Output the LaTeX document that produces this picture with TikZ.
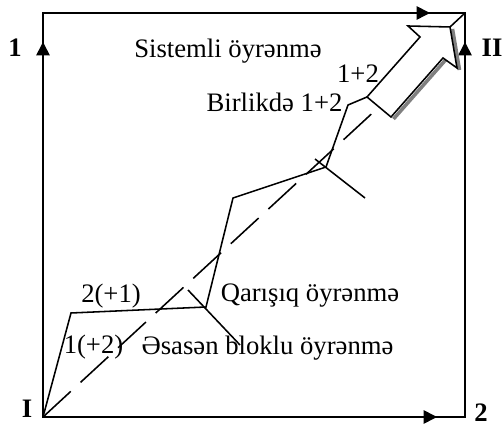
\documentclass[tikz,border=0pt]{standalone}
\usepackage{fontspec}
\setmainfont{Liberation Serif}
\usetikzlibrary{arrows.meta}
\definecolor{shadowgray}{RGB}{128,128,128}

\begin{document}
\begin{tikzpicture}[x=0.45pt,y=0.45pt,line width=0.7pt,line join=miter,
  axis/.style={-{Triangle[length=6pt,width=6pt]}},
  lbl/.style={font=\fontsize{12}{14}\selectfont,inner sep=0pt,anchor=base},
  corner/.style={font=\fontsize{12}{14}\selectfont\bfseries,inner sep=0pt,anchor=base},
  dashline/.style={dash pattern=on 17pt off 6pt}]
\useasboundingbox (0,0) rectangle (502,425);
\coordinate (I) at (43,8);
\coordinate (tl) at (43,412);
\coordinate (tr) at (465,412);
\coordinate (br) at (465,8);
\coordinate (up1) at (43,383);
\coordinate (up2) at (465,383);
\coordinate (rt1) at (430,412);
\coordinate (rt2) at (437,8);
\draw (I) -- (tl) -- (tr) -- (br) -- cycle;
\draw[axis] (I) -- (up1);
\draw[axis] (br) -- (up2);
\draw[axis] (tl) -- (rt1);
\draw[axis] (I) -- (rt2);
% path of learning
\coordinate (p1) at (71,112);
\coordinate (p2) at (206,118);
\coordinate (p3) at (233,227);
\coordinate (p4) at (326,258);
\coordinate (p5) at (348,320);
\coordinate (ab) at (367,328);
\draw (I) -- (p1) -- (p2) -- (p3) -- (p4) -- (p5) -- (ab);
\coordinate (t2a) at (188,135);
\coordinate (t2b) at (240,80);
\coordinate (t4a) at (315,266);
\coordinate (t4b) at (365,227);
\draw (t2a) -- (t2b);
\draw (t4a) -- (t4b);
\coordinate (am) at (379,318);
\draw[dashline] (I) -- (am);
% block arrow
\coordinate (st) at (420,388);
\coordinate (lb) at (408,399);
\coordinate (tip) at (450,398);
\coordinate (rb) at (457,357);
\coordinate (sr) at (443,367);
\coordinate (bb) at (391,308);
\draw[shadowgray,line width=1.6pt] ([shift={(2.5,-2)}]bb) -- ([shift={(2.5,-2)}]sr);
\draw[shadowgray,line width=1.6pt] ([shift={(2.5,-2)}]tip) -- ([shift={(2.5,-2)}]rb);
\draw[fill=white] (ab) -- (st) -- (lb) -- (tip) -- (rb) -- (sr) -- (bb) -- cycle;
\draw (tip) -- (tr);
\node[lbl] (sys) at (228,367) {Sistemli öyrənmə};
\node[lbl] (s12) at (358,342) {1+2};
\node[lbl] (birl) at (274.5,313) {Birlikdə 1+2};
\node[lbl] (qar) at (310,123) {Qarışıq öyrənmə};
\node[lbl] (n21) at (111,122) {2(+1)};
\node[lbl] (n12) at (93.5,71) {1(+2)};
\node[lbl] (esas) at (267.5,70) {Əsasən bloklu öyrənmə};
\node[corner] (c1) at (15,368) {1};
\node[corner] (cII) at (492,368) {II};
\node[corner] (cI) at (27,7) {I};
\node[corner] (c2) at (481,3) {2};
\end{tikzpicture}
\end{document}
